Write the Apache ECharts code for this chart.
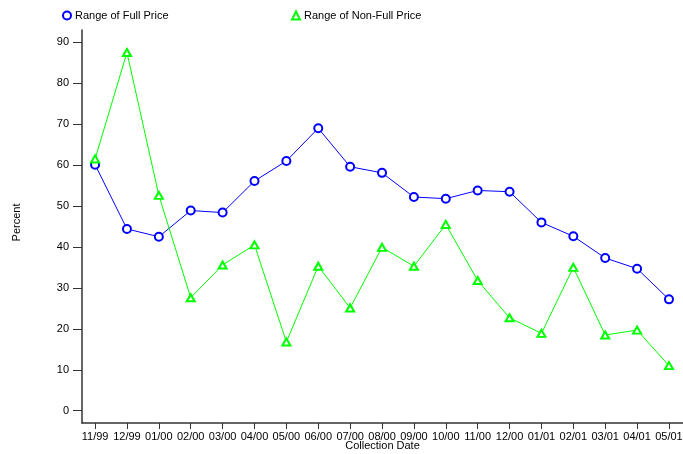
<!DOCTYPE html>
<html><head><meta charset="utf-8">
<script src="https://cdn.jsdelivr.net/npm/echarts@6/dist/echarts.min.js"></script>
<style>html,body{margin:0;padding:0;background:#fff}#c{width:683px;height:454px}</style>
</head><body><div id="c"></div>
<script>
const categories = ['11/99','12/99','01/00','02/00','03/00','04/00','05/00','06/00','07/00','08/00','09/00','10/00','11/00','12/00','01/01','02/01','03/01','04/01','05/01'];
const fullPrice = [60.1,44.4,42.5,48.9,48.4,56.1,61.0,69.0,59.6,58.1,52.2,51.8,53.8,53.5,46.0,42.6,37.3,34.7,27.2];
const nonFullPrice = [61.5,87.5,52.6,27.6,35.6,40.5,16.8,35.3,25.1,39.9,35.3,45.5,31.8,22.7,18.9,35.0,18.5,19.7,11.0];
const yTicks = [0,10,20,30,40,50,60,70,80,90];

const font = 'Liberation Sans, Arial, sans-serif';
const blue = '#0000ff', green = '#00ff00';
const chart = echarts.init(document.getElementById('c'));
chart.setOption({
  animation: false,
  textStyle: {fontFamily: font},
  legend: [
    {data: [{name: 'Range of Full Price', icon: 'emptyCircle'}], left: 62, top: 10, padding: 0, itemWidth: 8, itemHeight: 8,
     itemStyle: {borderWidth: 1}, textStyle: {fontFamily: font, fontSize: 11, color: '#000', padding: [0, 0, 0, -1]}},
    {data: [{name: 'Range of Non-Full Price', icon: 'emptyTriangle'}], left: 291, top: 10, padding: 0, itemWidth: 8, itemHeight: 8,
     itemStyle: {borderWidth: 1}, textStyle: {fontFamily: font, fontSize: 11, color: '#000', padding: [0, 0, 0, -1]}}
  ],
  grid: {left: 82, right: 0, top: 30, bottom: 31, outerBoundsMode: 'none', containLabel: false},
  xAxis: {
    type: 'value', min: -0.41, max: 18.44,
    name: 'Collection Date', nameLocation: 'middle', nameGap: 17, nameMoveOverlap: false,
    nameTextStyle: {fontFamily: font, fontSize: 11, color: '#000'},
    axisLine: {onZero: false, lineStyle: {color: '#333', width: 1.5}},
    axisTick: {customValues: categories.map((c, i) => i), length: 6, lineStyle: {color: '#333', width: 1}},
    axisLabel: {customValues: categories.map((c, i) => i), formatter: v => categories[Math.round(v)],
      fontFamily: font, fontSize: 11, color: '#000', margin: 8, hideOverlap: false},
    splitLine: {show: false}
  },
  yAxis: {
    type: 'value', min: -3, max: 93,
    name: 'Percent', nameLocation: 'middle', nameGap: 60, nameRotate: 90, nameMoveOverlap: false,
    nameTextStyle: {fontFamily: font, fontSize: 11, color: '#000', padding: [0, 0, 0, 8]},
    axisLine: {show: true, onZero: false, lineStyle: {color: '#333', width: 1.5}},
    axisTick: {show: true, customValues: yTicks, length: 9, lineStyle: {color: '#333', width: 1}},
    axisLabel: {customValues: yTicks, fontFamily: font, fontSize: 11, color: '#000', margin: 13},
    splitLine: {show: false}
  },
  series: [
    {name: 'Range of Full Price', type: 'line', data: fullPrice.map((v, i) => [i, v]),
     symbol: 'emptyCircle', symbolSize: 8, color: blue,
     lineStyle: {width: 1, color: blue}, itemStyle: {color: blue, borderWidth: 1}},
    {name: 'Range of Non-Full Price', type: 'line', data: nonFullPrice.map((v, i) => [i, v]),
     symbol: 'emptyTriangle', symbolSize: [8, 7], color: green,
     lineStyle: {width: 1, color: green}, itemStyle: {color: green, borderWidth: 1}}
  ]
});
</script></body></html>
